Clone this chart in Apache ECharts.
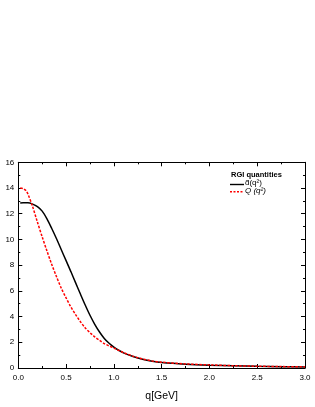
<!DOCTYPE html>
<html><head><meta charset="utf-8">
<script src="https://cdn.jsdelivr.net/npm/echarts@6/dist/echarts.min.js"></script>
<style>html,body{margin:0;padding:0;background:#fff}#c{width:315px;height:407px}</style>
</head><body><div id="c"></div>
<script>
const qBlack = [0.02,0.05,0.10,0.15,0.20,0.25,0.30,0.35,0.40,0.45,0.50,0.55,0.60,0.65,0.70,0.75,0.80,0.85,0.90,0.95,1.0,1.05,1.1,1.2,1.3,1.4,1.5,1.75,2.0,2.25,2.5,2.75,3.0];
const dHat   = [12.83,12.85,12.85,12.75,12.55,12.2,11.6,10.85,10.05,9.2,8.35,7.5,6.62,5.75,4.9,4.1,3.4,2.8,2.3,1.92,1.62,1.38,1.18,0.9,0.68,0.53,0.43,0.3,0.22,0.17,0.13,0.1,0.08];
const qRed   = [0.02,0.05,0.08,0.10,0.15,0.20,0.25,0.30,0.35,0.40,0.45,0.50,0.55,0.60,0.65,0.70,0.75,0.80,0.85,0.90,0.95,1.0,1.1,1.2,1.3,1.4,1.5,1.75,2.0,2.25,2.5,2.75,3.0];
const calQ   = [14.0,13.95,13.8,13.55,12.55,11.35,10.2,9.1,8.05,7.1,6.2,5.45,4.75,4.15,3.6,3.12,2.75,2.42,2.15,1.9,1.72,1.55,1.2,0.92,0.7,0.55,0.45,0.32,0.24,0.18,0.14,0.11,0.09];
const legendTitle = 'RGI quantities';
const nameBlack = 'd\u0302(q\u00b2)';
const nameRed = 'Q (q\u00b2)';

const chart = echarts.init(document.getElementById('c'));
const font = 'Liberation Sans, Arial, sans-serif';
function ax(extra) {
  return Object.assign({
    type: 'value', min: 0,
    axisLine: {show: true, onZero: false, lineStyle: {color: '#000', width: 1}},
    axisTick: {show: true, inside: true, length: 4, lineStyle: {color: '#000'}},
    minorTick: {show: true, splitNumber: 2, length: 2, lineStyle: {color: '#000'}},
    splitLine: {show: false}
  }, extra);
}
chart.setOption({
  animation: false,
  grid: {left: 18.3, right: 10, top: 162.3, bottom: 34.7},
  xAxis: [
    ax({max: 3, interval: 0.5, position: 'bottom',
      axisLabel: {color: '#000', fontSize: 8, fontFamily: font, margin: 6, formatter: v => v.toFixed(1)},
      name: 'q[GeV]', nameLocation: 'middle', nameGap: 23,
      nameTextStyle: {color: '#000', fontSize: 10.5, fontFamily: font}}),
    ax({max: 3, interval: 0.5, position: 'top', axisLabel: {show: false}})
  ],
  yAxis: [
    ax({max: 16, interval: 2, position: 'left',
      axisLabel: {color: '#000', fontSize: 8, fontFamily: font, margin: 4}}),
    ax({max: 16, interval: 2, position: 'right', axisLabel: {show: false}})
  ],
  graphic: [
    {type: 'text', left: 231, top: 171, style: {text: legendTitle, fill: '#000', font: 'bold 7.5px ' + font}},
    {type: 'line', shape: {x1: 230, y1: 184.5, x2: 244, y2: 184.5}, style: {stroke: '#000', lineWidth: 1.4}},
    {type: 'text', left: 245, top: 179, style: {text: nameBlack, fill: '#000', font: '8px ' + font}},
    {type: 'line', shape: {x1: 230, y1: 191.7, x2: 244, y2: 191.7}, style: {stroke: '#ff0000', lineWidth: 1.4, lineDash: [2, 1.5]}},
    {type: 'text', left: 245, top: 187, style: {text: nameRed, fill: '#000', font: 'italic 8px ' + font}}
  ],
  series: [
    {name: nameBlack, type: 'line', smooth: 0.3, showSymbol: false, symbol: 'none',
     data: qBlack.map((q, i) => [q, dHat[i]]),
     lineStyle: {color: '#000', width: 1.5}},
    {name: nameRed, type: 'line', smooth: 0.3, showSymbol: false, symbol: 'none',
     data: qRed.map((q, i) => [q, calQ[i]]),
     lineStyle: {color: '#ff0000', width: 1.5, type: [2.5, 1.5]}}
  ]
});
</script></body></html>
